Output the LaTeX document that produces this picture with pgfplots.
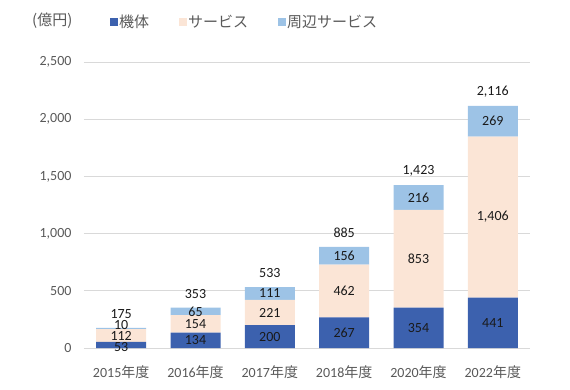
\documentclass[border=0pt]{standalone}
\usepackage{fontspec}
\setmainfont{Carlito}
\newfontfamily\jp{Noto Sans CJK JP}
\usepackage{pgfplots}
\usepackage{pgfplotstable}
\pgfplotsset{compat=1.18}
\definecolor{cA}{HTML}{3C61AE}
\definecolor{cB}{HTML}{FBE5D6}
\definecolor{cC}{HTML}{9DC3E6}
\definecolor{tickc}{HTML}{595959}
\definecolor{labc}{HTML}{1A1A1A}
\definecolor{gridc}{HTML}{D9D9D9}

\pgfplotstableread{
x a b c t da dc
0 53 112 10 175 -15 30
1 134 154 65 353 0 0
2 200 221 111 533 0 0
3 267 462 156 885 0 0
4 354 853 216 1423 0 0
5 441 1406 269 2116 0 0
}\data

\pgfplotsset{
  base/.style={
    scale only axis, width=446pt, height=286pt,
    xmin=-0.5, xmax=5.5, ymin=0, ymax=2500,
    enlargelimits=false,
    /pgf/number format/assume math mode=true,
    /pgf/number format/1000 sep={,},
  },
  lab/.style={draw=none, mark=none, nodes near coords, point meta=explicit,
    every node near coord/.append style={anchor=center, font=\fontsize{14}{16}\selectfont, text=labc}},
}

\begin{document}
\begin{tikzpicture}
\path[use as bounding box] (-84pt,-41pt) rectangle (486pt,348pt);
\begin{axis}[
  base,
  ybar stacked, bar width=50pt,
  xtick=data,
  xticklabels={{2015{\jp 年度}},{2016{\jp 年度}},{2017{\jp 年度}},{2018{\jp 年度}},{2020{\jp 年度}},{2022{\jp 年度}}},
  ytick={0,500,1000,1500,2000,2500},
  scaled y ticks=false,
  ymajorgrids, grid style={gridc, line width=0.8pt},
  axis line style={draw=none},
  major tick length=0pt,
  tick label style={font=\fontsize{14}{16}\selectfont, text=tickc},
  yticklabel style={xshift=-9pt},
  xticklabel style={yshift=-14pt},
  legend style={draw=none, fill=none, legend columns=-1,
    at={(0.05,1.14)}, anchor=west,
    nodes={inner sep=1.5pt},
    font=\jp\fontsize{15}{17}\selectfont, text=tickc,
    /tikz/every even column/.append style={column sep=28pt}},
  legend image code/.code={\fill[#1,draw=none] (0pt,-4pt) rectangle (8pt,4pt);},
]
\addplot[fill=cA, draw=none] table[x=x, y=a] \data;
\addplot[fill=cB, draw=none] table[x=x, y=b] \data;
\addplot[fill=cC, draw=none] table[x=x, y=c] \data;
\legend{機体,サービス,周辺サービス}
\end{axis}
\begin{axis}[base, hide axis]
\addplot[lab] table[x=x, y expr=\thisrow{a}/2+\thisrow{da}, meta=a] \data;
\addplot[lab] table[x=x, y expr=\thisrow{a}+\thisrow{b}/2, meta=b] \data;
\addplot[lab] table[x=x, y expr=\thisrow{a}+\thisrow{b}+\thisrow{c}/2+\thisrow{dc}, meta=c] \data;
\addplot[lab, every node near coord/.append style={yshift=14pt}] table[x=x, y=t, meta=t] \data;
\end{axis}
\node[anchor=west, inner sep=0pt, text=tickc, font=\jp\fontsize{15}{17}\selectfont] at (-52pt,327pt) {(億円)};
\end{tikzpicture}
\end{document}
